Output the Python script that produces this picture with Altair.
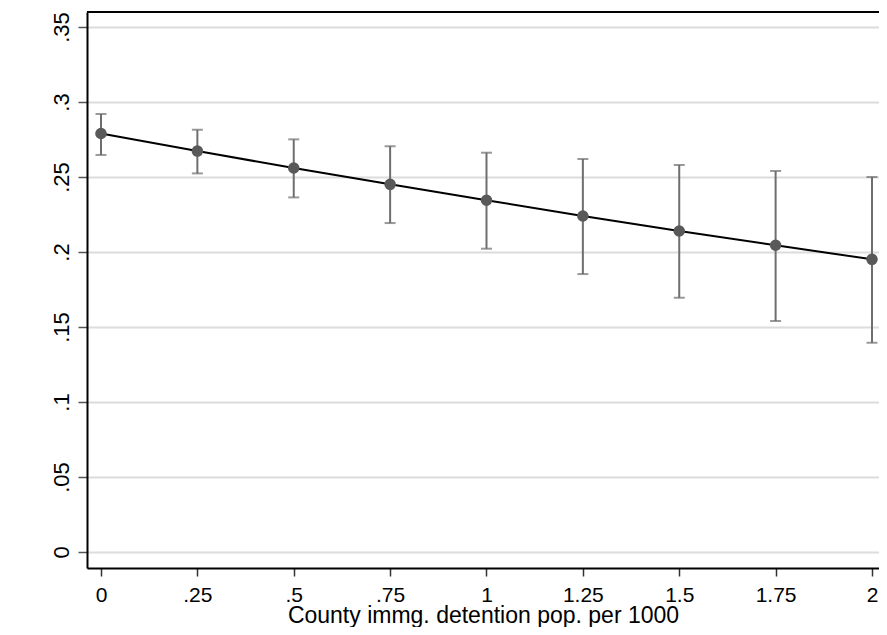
import altair as alt
import pandas as pd

# Data
x_vals = [0, 0.25, 0.5, 0.75, 1, 1.25, 1.5, 1.75, 2]
estimate = [0.2790, 0.2673, 0.2560, 0.2451, 0.2345, 0.2240, 0.2140, 0.2045, 0.1951]
ci_low = [0.2647, 0.2524, 0.2364, 0.2193, 0.2022, 0.1853, 0.1695, 0.1540, 0.1395]
ci_high = [0.2920, 0.2815, 0.2751, 0.2705, 0.2662, 0.2620, 0.2580, 0.2540, 0.2500]
y_ticks = [0, 0.05, 0.1, 0.15, 0.2, 0.25, 0.3, 0.35]
x_title = "County immg. detention pop. per 1000"

df = pd.DataFrame({"x": x_vals, "est": estimate, "lo": ci_low, "hi": ci_high})

W, H = 792, 556
FONT = "Liberation Sans"
label_expr = "replace(format(datum.value, '.2~f'), '0.', '.')"

xscale = alt.Scale(domain=[-0.0363, 2.0182], nice=False, zero=False)
yscale = alt.Scale(domain=[-0.01067, 0.36], nice=False, zero=False)

xaxis = alt.Axis(
    values=x_vals, labelExpr=label_expr, title=x_title, grid=False,
    tickSize=8, tickWidth=1.5, tickColor="#333333",
    domainColor="black", domainWidth=2,
    labelFont=FONT, labelFontSize=21, labelColor="black", labelPadding=8,
    labelFlush=False, labelOverlap=False,
    titleFont=FONT, titleFontSize=23, titleFontWeight="normal", titleColor="black",
    titleY=54, titleBaseline="alphabetic",
)
yaxis = alt.Axis(
    values=y_ticks, labelExpr=label_expr, title=None, grid=True,
    gridColor="#dcdcdc", gridWidth=2,
    tickSize=9, tickWidth=1.5, tickColor="#555555",
    domainColor="black", domainWidth=2,
    labelFont=FONT, labelFontSize=22, labelColor="black", labelPadding=5,
    labelAngle=270, labelAlign="center", labelBaseline="bottom",
    labelFlush=False, labelOverlap=False,
)

base = alt.Chart(df)

bars = base.mark_errorbar(ticks=True, thickness=2, size=11, color="#6e6e6e").encode(
    x=alt.X("x:Q", scale=xscale, axis=xaxis),
    y=alt.Y("lo:Q", scale=yscale, axis=yaxis),
    y2="hi:Q",
)
line = base.mark_line(color="black", strokeWidth=2).encode(
    x=alt.X("x:Q", scale=xscale, axis=xaxis),
    y=alt.Y("est:Q", scale=yscale, axis=yaxis),
)
points = base.mark_circle(size=135, color="#595959", opacity=1).encode(
    x=alt.X("x:Q", scale=xscale, axis=xaxis),
    y=alt.Y("est:Q", scale=yscale, axis=yaxis),
)
top_frame = base.mark_rule(color="black", strokeWidth=1.5).encode(
    x=alt.value(0), x2=alt.value(W), y=alt.value(0)
)

chart = alt.layer(bars, line, points, top_frame).properties(
    width=W, height=H,
    autosize=alt.AutoSizeParams(type="none"),
    padding={"left": 79, "top": 4, "right": 0, "bottom": 59},
    background="white",
).configure_view(stroke=None)

chart.save("out.html", embed_options={"renderer": "svg", "actions": False})
